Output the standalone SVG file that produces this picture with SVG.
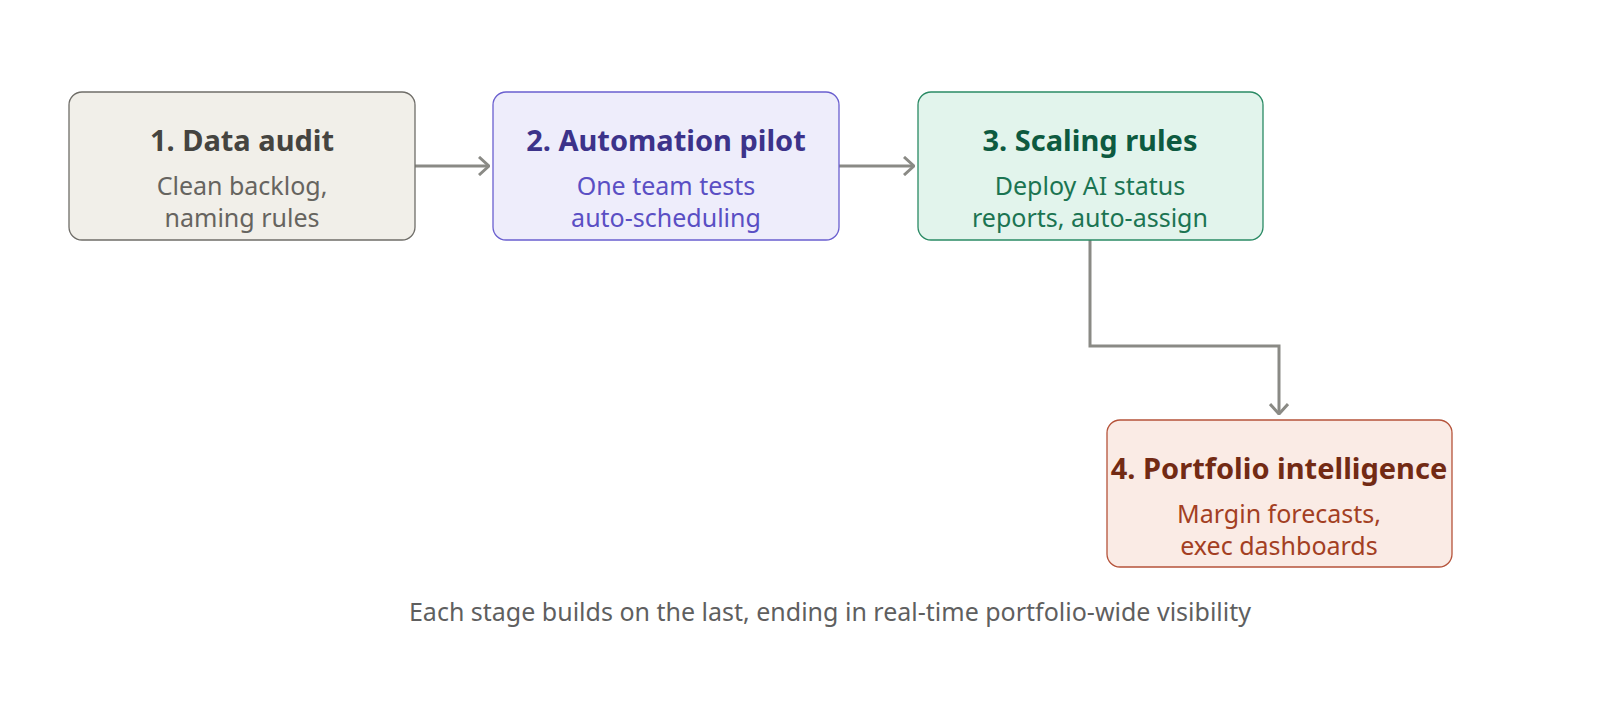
<svg xmlns="http://www.w3.org/2000/svg" width="1600" height="706" viewBox="0 0 1600 706">
<style>
text{font-family:"Noto Sans","Open Sans",sans-serif;text-anchor:middle}
.t{font-size:29px;font-weight:bold}
.s{font-size:25px}
.c{stroke:#8a8a85;stroke-width:3;fill:none}
</style>
<defs><marker id="a" viewBox="0 0 12 20" refX="11" refY="10" markerWidth="12" markerHeight="20" markerUnits="userSpaceOnUse" orient="auto"><path d="M1,1 L11,10 L1,19" fill="none" stroke="#8a8a85" stroke-width="3"/></marker></defs>
<rect width="1600" height="706" fill="#fff"/>
<g id="connectors">
<path class="c" d="M415,166 H489" marker-end="url(#a)"/>
<path class="c" d="M839,166 H914" marker-end="url(#a)"/>
<path class="c" d="M1090,240 V346 H1279 V414" marker-end="url(#a)"/>
</g>
<g id="n1"><rect x="69" y="92" width="346" height="148" rx="13" fill="#f1efe9" stroke="#6f6d68" stroke-width="1.3"/>
<text class="t" x="242" y="151" fill="#454440">1. Data audit</text>
<text class="s" x="242" y="195" fill="#66645f">Clean backlog,</text><text class="s" x="242" y="227" fill="#66645f">naming rules</text></g>
<g id="n2"><rect x="493" y="92" width="346" height="148" rx="13" fill="#eeedfb" stroke="#6a5fcf" stroke-width="1.3"/>
<text class="t" x="666" y="151" fill="#3c338a">2. Automation pilot</text>
<text class="s" x="666" y="195" fill="#5a4fc4">One team tests</text><text class="s" x="666" y="227" fill="#5a4fc4">auto-scheduling</text></g>
<g id="n3"><rect x="918" y="92" width="345" height="148" rx="13" fill="#e2f4ec" stroke="#2a8a64" stroke-width="1.3"/>
<text class="t" x="1090" y="151" fill="#0d5a40">3. Scaling rules</text>
<text class="s" x="1090" y="195" fill="#1b7452">Deploy AI status</text><text class="s" x="1090" y="227" fill="#1b7452">reports, auto-assign</text></g>
<g id="n4"><rect x="1107" y="420" width="345" height="147" rx="13" fill="#faebe5" stroke="#b5533a" stroke-width="1.3"/>
<text class="t" x="1279" y="479" fill="#722a14">4. Portfolio intelligence</text>
<text class="s" x="1279" y="523" fill="#a33f23">Margin forecasts,</text><text class="s" x="1279" y="555" fill="#a33f23">exec dashboards</text></g>
<text x="830" y="621" font-size="25" fill="#5f5f5f">Each stage builds on the last, ending in real-time portfolio-wide visibility</text>
</svg>
